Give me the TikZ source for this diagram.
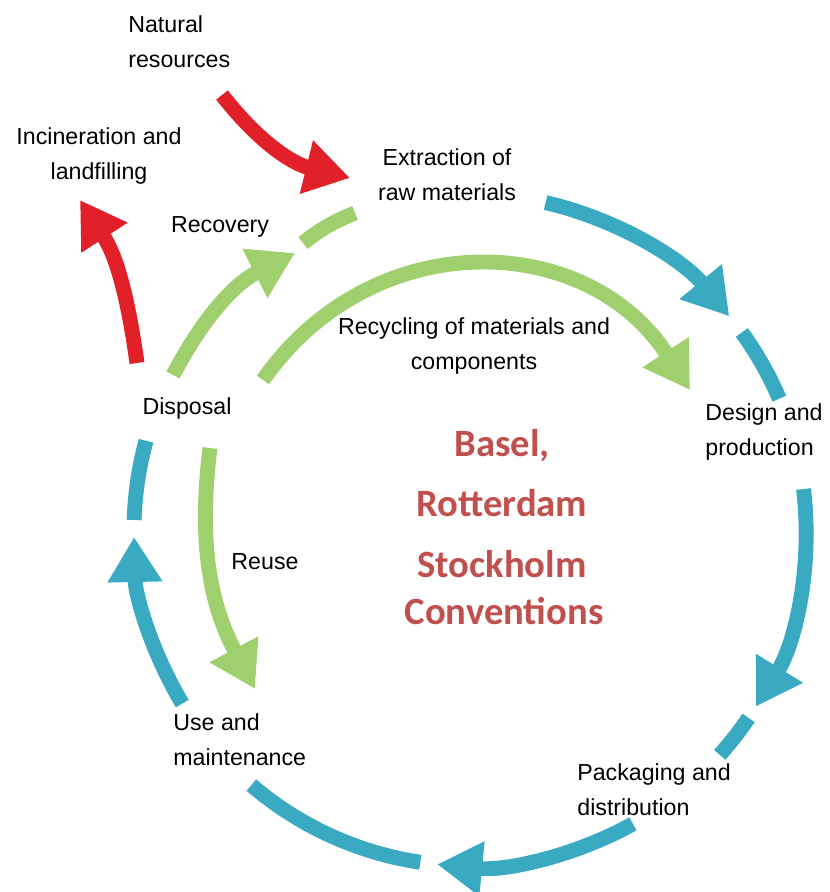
\documentclass[tikz,border=0pt]{standalone}
\usepackage{fontspec}
\setmainfont{Liberation Sans}
\newfontfamily\convfont{Carlito}
\usetikzlibrary{arrows.meta,positioning}
\definecolor{cycleblue}{HTML}{3AAAC2}
\definecolor{reusegreen}{HTML}{A0CF6E}
\definecolor{wastered}{HTML}{E2202A}
\definecolor{convred}{HTML}{C0504D}
\tikzset{
    %Define standard arrow tip
    >={Triangle[length=25.6pt,width=29.6pt]},
    %Define style for stage labels
    stage/.style={
           inner sep=0pt,
           font=\fontsize{13.2}{20}\selectfont,
           align=center},
    %Define style for the convention names
    conv/.style={
           inner sep=0pt,
           text=convred,
           font=\convfont\bfseries\fontsize{22}{24}\selectfont},
    % Define arrow styles
    loopflow/.style={
           cycleblue,
           line width=8.5pt},
    backflow/.style={
           reusegreen,
           line width=8.5pt},
    wasteflow/.style={
           wastered,
           line width=8.5pt}
}
\begin{document}
\begin{tikzpicture}[x=0.02cm, y=0.02cm]
 \useasboundingbox (0,0) rectangle (829,892);
 %nodes
    \node[stage, anchor=north west, align=left] (nat) at (128,877) {Natural\\resources};
    \node[stage, anchor=north] (inc) at (99,765) {Incineration and\\landfilling};
    \node[stage, anchor=north] (ext) at (447,744) {Extraction of\\raw materials};
    \node[stage, anchor=north] (rec) at (220,676) {Recovery};
    \node[stage, anchor=north] (rcy) at (474,575) {Recycling of materials and\\components};
    \node[stage, anchor=north] (dis) at (187,495) {Disposal};
    \node[stage, anchor=north west, align=left] (des) at (705,489) {Design and\\production};
    \node[stage, anchor=north] (reu) at (265,339) {Reuse};
    \node[stage, anchor=north west, align=left] (use) at (173,179) {Use and\\maintenance};
    \node[stage, anchor=north west, align=left] (pack) at (577,129) {Packaging and\\distribution};
    \node[conv, anchor=base] (basel) at (502,435) {Basel,};
    \node[conv, anchor=base] (rotterdam) at (502,375) {Rotterdam};
    \node[conv, anchor=base] (stockholm) at (502,314) {Stockholm};
    \node[conv, anchor=base] (conventions) at (504,267) {Conventions};
 %arrow ends
    \coordinate (c) at (470,362);
    \coordinate (natend) at (222,797);
    \coordinate (exttip) at (350,714);
    \coordinate (distail) at (137,529);
    \coordinate (inctip) at (80,692);
    \coordinate (rectail) at (173,517);
    \coordinate (rectip) at (295,639);
    \coordinate (reca) at (303,649);
    \coordinate (recb) at (355,679);
    \coordinate (rcytail) at (263,512);
    \coordinate (rcytip) at (690,502);
    \coordinate (reutail) at (210,444);
    \coordinate (reutip) at (255,203);
 %main cycle
    \draw[loopflow,->] (c) ++(77:336) arc[start angle=77, end angle=39.5, radius=336];
    \draw[loopflow] (c) ++(36:336) arc[start angle=36, end angle=23, radius=336];
    \draw[loopflow,->] (c) ++(7:336) arc[start angle=7, end angle=-31.7, radius=336];
    \draw[loopflow] (c) ++(-34:336) arc[start angle=-34, end angle=-42, radius=336];
    \draw[loopflow,->] (c) ++(-61:336) arc[start angle=-61, end angle=-95.6, radius=336];
    \draw[loopflow] (c) ++(-98.5:336) arc[start angle=-98.5, end angle=-130.6, radius=336];
    \draw[loopflow,->] (c) ++(-148.9:336) arc[start angle=-148.9, end angle=-178.8, radius=336];
    \draw[loopflow] (c) ++(-181.7:336) arc[start angle=-181.7, end angle=-195.4, radius=336];
 %loops back
    \draw[backflow,->] (rectail) to[out=62, in=207] (rectip);
    \draw[backflow] (reca) to[bend left=8] (recb);
    \draw[backflow,->] (rcytail) to[out=55, in=123, looseness=1.14] (rcytip);
    \draw[backflow,->] (reutail) to[out=-97, in=118] (reutip);
 %waste and input
    \draw[wasteflow,->] (natend) to[out=-52, in=166] (exttip);
    \draw[wasteflow,->] (distail) to[out=98, in=-57] (inctip);
\end{tikzpicture}
\end{document}
